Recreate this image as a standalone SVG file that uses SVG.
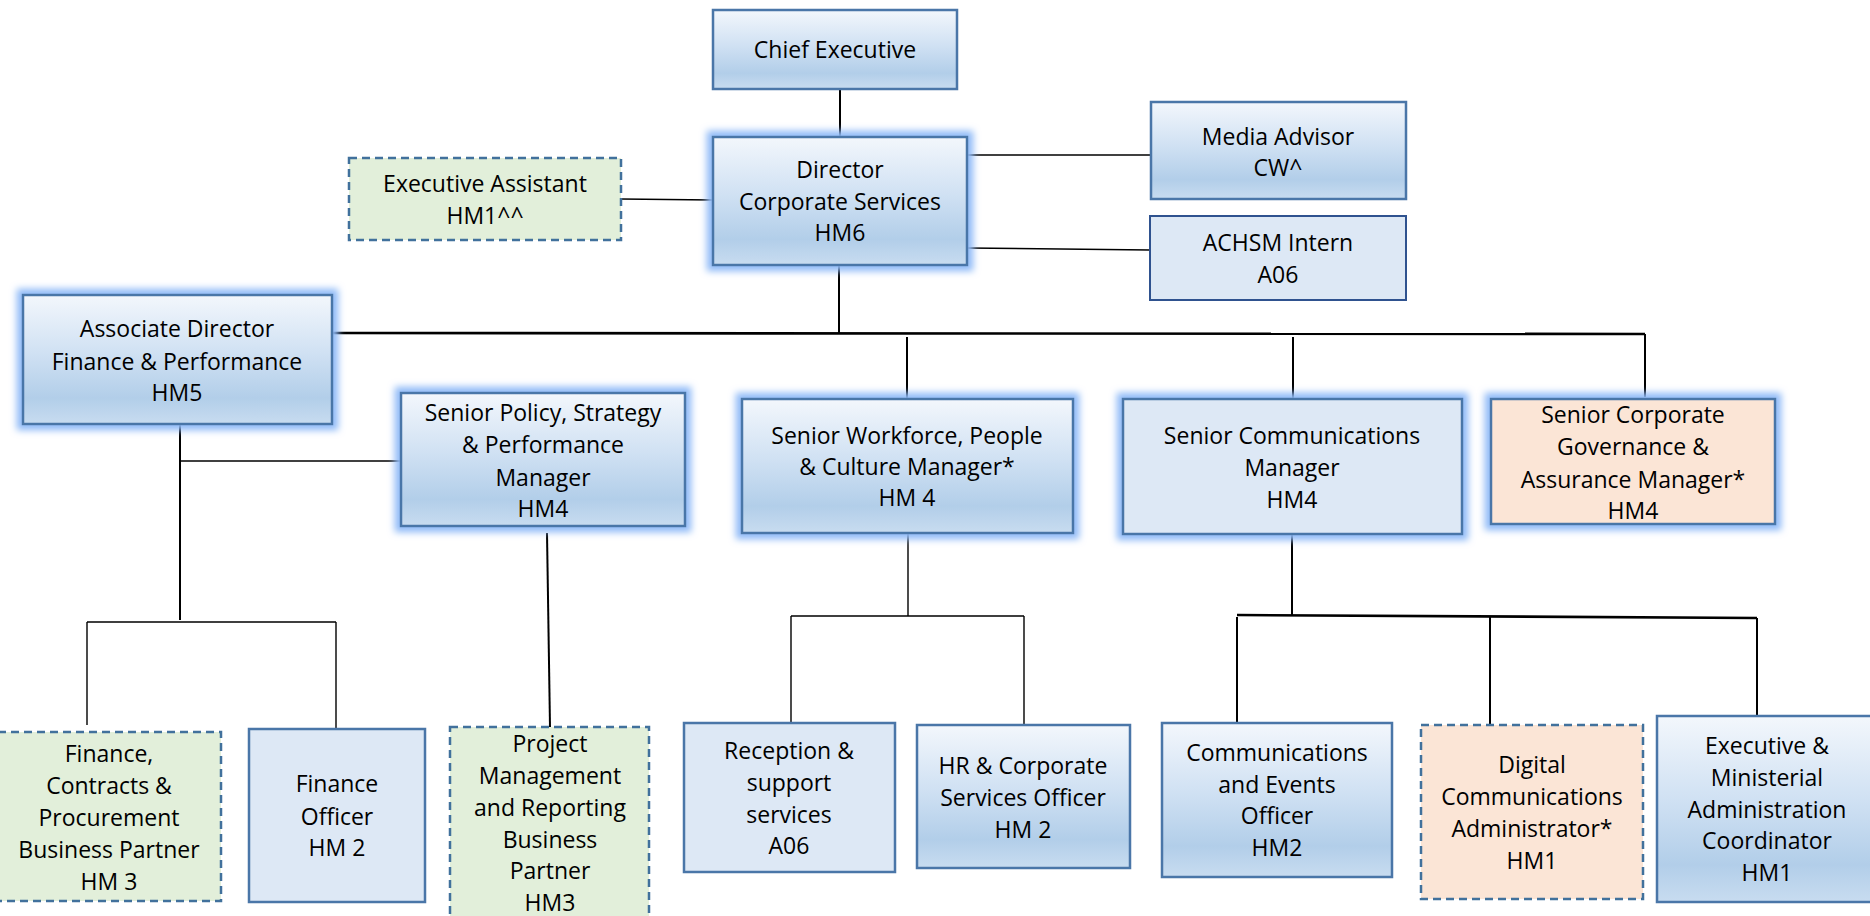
<svg xmlns="http://www.w3.org/2000/svg" width="1870" height="916" viewBox="0 0 1870 916">
<defs>
<linearGradient id="gb" x1="0" y1="0" x2="0" y2="1">
<stop offset="0" stop-color="#f3f7fc"/>
<stop offset="0.45" stop-color="#d0e1f3"/>
<stop offset="0.8" stop-color="#b2cee9"/>
<stop offset="1" stop-color="#c8dcf0"/>
</linearGradient>
<filter id="glow" x="-15%" y="-15%" width="130%" height="130%">
<feMorphology in="SourceAlpha" operator="dilate" radius="5" result="d"/>
<feGaussianBlur in="d" stdDeviation="3.5" result="b"/>
<feFlood flood-color="#8fbaf7" flood-opacity="1"/>
<feComposite in2="b" operator="in" result="g"/>
<feMerge><feMergeNode in="g"/><feMergeNode in="SourceGraphic"/></feMerge>
</filter>
<style>
.g{fill:url(#gb);stroke:#4a76a8;stroke-width:2.5}
.f{fill:#dde8f5;stroke:#4a76a8;stroke-width:2.5}
.fb{fill:#dde8f5;stroke:#2f528f;stroke-width:2}
.p{fill:#fbe5d6;stroke:#4a76a8;stroke-width:2.5}
.pd{fill:#fbe5d6;stroke:#41719c;stroke-width:2.5;stroke-dasharray:8 5}
.gd{fill:#e2efda;stroke:#41719c;stroke-width:2.5;stroke-dasharray:8 5}
.gl{filter:url(#glow)}
text{font-family:"Open Sans","Noto Sans","Liberation Sans",sans-serif;font-size:23px;fill:#000;text-anchor:middle}
.c path{fill:none;stroke:#000;stroke-width:2}
.c .t{stroke-width:1.4}
.c .k{stroke-width:2.6}
</style>
</defs>
<rect width="1870" height="916" fill="#fff"/>
<g class="c" id="connectors">
<path d="M840 89V137"/>
<path class="t" d="M621 199L713 200"/>
<path class="t" d="M967 155H1151"/>
<path class="t" d="M967 248L1150 250"/>
<path d="M839 265V333"/>
<path class="k" d="M332 333L1645 334"/>
<path d="M907 337V399"/>
<path d="M1293 337V399"/>
<path d="M1645 334V397"/>
<path d="M180 424V620"/>
<path class="t" d="M180 461H401"/>
<path class="t" d="M87 622H336M87 622V725M336 622V729"/>
<path d="M547 533L550 727"/>
<path class="t" d="M908 533V616M791 616H1024M791 616V723M1024 616V725"/>
<path d="M1292 534V615"/>
<path class="k" d="M1237 615L1757 618"/>
<path d="M1237 617V723M1490 617V725M1757 618V716"/>
</g>
<g id="chief-executive"><rect class="g" x="713" y="10" width="244" height="79"/><text x="835" y="58">Chief Executive</text></g>
<g id="director"><rect class="g gl" x="713" y="137" width="254" height="128"/><text x="840" y="178">Director</text><text x="840" y="210">Corporate Services</text><text x="840" y="241">HM6</text></g>
<g id="executive-assistant"><rect class="gd" x="349" y="158" width="272" height="82"/><text x="485" y="192">Executive Assistant</text><text x="485" y="224">HM1^^</text></g>
<g id="media-advisor"><rect class="g" x="1151" y="102" width="255" height="97"/><text x="1278" y="145">Media Advisor</text><text x="1278" y="176">CW^</text></g>
<g id="achsm-intern"><rect class="fb" x="1150" y="216" width="256" height="84"/><text x="1278" y="251">ACHSM Intern</text><text x="1278" y="283">A06</text></g>
<g id="associate-director"><rect class="g gl" x="23" y="295" width="309" height="129"/><text x="177" y="337">Associate Director</text><text x="177" y="370">Finance &amp; Performance</text><text x="177" y="401">HM5</text></g>
<g id="senior-policy"><rect class="g gl" x="401" y="393" width="284" height="133"/><text x="543" y="421">Senior Policy, Strategy</text><text x="543" y="453">&amp; Performance</text><text x="543" y="486">Manager</text><text x="543" y="517">HM4</text></g>
<g id="senior-workforce"><rect class="g gl" x="742" y="399" width="331" height="134"/><text x="907" y="444">Senior Workforce, People</text><text x="907" y="475">&amp; Culture Manager*</text><text x="907" y="506">HM 4</text></g>
<g id="senior-communications"><rect class="f gl" x="1123" y="399" width="339" height="135"/><text x="1292" y="444">Senior Communications</text><text x="1292" y="476">Manager</text><text x="1292" y="508">HM4</text></g>
<g id="senior-governance"><rect class="p gl" x="1491" y="399" width="284" height="125"/><text x="1633" y="423">Senior Corporate</text><text x="1633" y="455">Governance &amp;</text><text x="1633" y="488">Assurance Manager*</text><text x="1633" y="519">HM4</text></g>
<g id="finance-contracts"><rect class="gd" x="-2" y="732" width="223" height="169"/><text x="109" y="762">Finance,</text><text x="109" y="794">Contracts &amp;</text><text x="109" y="826">Procurement</text><text x="109" y="858">Business Partner</text><text x="109" y="890">HM 3</text></g>
<g id="finance-officer"><rect class="f" x="249" y="729" width="176" height="173"/><text x="337" y="792">Finance</text><text x="337" y="825">Officer</text><text x="337" y="856">HM 2</text></g>
<g id="project-management"><rect class="gd" x="450" y="727" width="199" height="200"/><text x="550" y="752">Project</text><text x="550" y="784">Management</text><text x="550" y="816">and Reporting</text><text x="550" y="848">Business</text><text x="550" y="879">Partner</text><text x="550" y="911">HM3</text></g>
<g id="reception"><rect class="f" x="684" y="723" width="211" height="149"/><text x="789" y="759">Reception &amp;</text><text x="789" y="791">support</text><text x="789" y="823">services</text><text x="789" y="854">A06</text></g>
<g id="hr-officer"><rect class="g" x="917" y="725" width="213" height="143"/><text x="1023" y="774">HR &amp; Corporate</text><text x="1023" y="806">Services Officer</text><text x="1023" y="838">HM 2</text></g>
<g id="comms-events"><rect class="g" x="1162" y="723" width="230" height="154"/><text x="1277" y="761">Communications</text><text x="1277" y="793">and Events</text><text x="1277" y="824">Officer</text><text x="1277" y="856">HM2</text></g>
<g id="digital-comms"><rect class="pd" x="1421" y="725" width="222" height="174"/><text x="1532" y="773">Digital</text><text x="1532" y="805">Communications</text><text x="1532" y="837">Administrator*</text><text x="1532" y="869">HM1</text></g>
<g id="exec-ministerial"><rect class="g" x="1657" y="716" width="220" height="186"/><text x="1767" y="754">Executive &amp;</text><text x="1767" y="786">Ministerial</text><text x="1767" y="818">Administration</text><text x="1767" y="849">Coordinator</text><text x="1767" y="881">HM1</text></g>
</svg>
